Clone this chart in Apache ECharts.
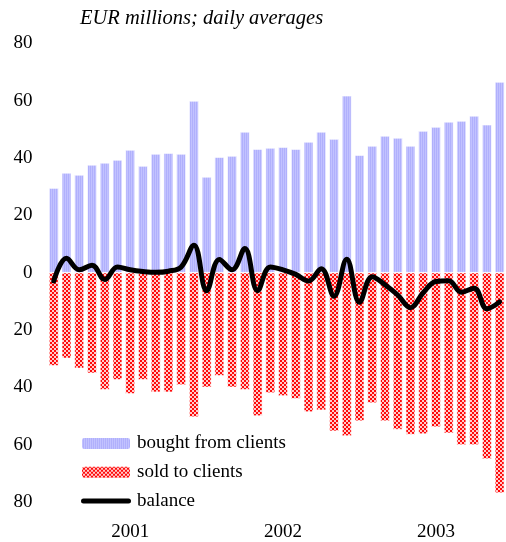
<!DOCTYPE html>
<html>
<head>
<meta charset="utf-8">
<script src="https://cdn.jsdelivr.net/npm/echarts@6/dist/echarts.min.js"></script>
<style>
html,body{margin:0;padding:0;background:#fff;}
#chart{width:506px;height:542px;}
</style>
</head>
<body>
<div id="chart"></div>
<script>
// Monthly categories Jan 2001 - Dec 2003
var years = ['2001', '2002', '2003'];
var months = ['01','02','03','04','05','06','07','08','09','10','11','12'];
var categories = [];
years.forEach(function (y) { months.forEach(function (m) { categories.push(y + '-' + m); }); });

var bought = [29.5, 34.8, 34.1, 37.6, 38.3, 39.3, 42.8, 37.2, 41.4, 41.7, 41.4, 59.9,
              33.4, 40.3, 40.7, 49.1, 43.1, 43.5, 43.8, 43.1, 45.6, 49.1, 46.6, 61.7,
              41.0, 44.2, 47.7, 47.0, 44.2, 49.4, 50.8, 52.6, 52.9, 54.7, 51.6, 66.5];
var sold = [32.5, 29.9, 33.4, 35.1, 40.9, 37.4, 42.3, 37.4, 41.7, 41.7, 39.2, 50.4,
            40.0, 36.0, 40.0, 40.9, 50.0, 42.0, 43.0, 44.0, 48.6, 48.0, 55.3, 57.0,
            51.8, 45.5, 51.8, 54.7, 56.5, 56.3, 53.9, 56.0, 60.1, 60.1, 65.0, 76.9];
var balance = [-2.9, 5.0, 1.0, 2.6, -2.4, 2.0, 1.0, 0.4, 0.1, 0.5, 2.0, 9.6,
               -6.3, 4.6, 1.0, 8.4, -6.3, 2.0, 1.0, -0.6, -2.9, 1.4, -8.2, 4.7,
               -10.3, -1.4, -4.2, -7.8, -12.2, -7.0, -3.1, -2.8, -6.8, -5.4, -12.6, -10.2];

function makePattern(w, h, draw) {
  var c = document.createElement('canvas');
  c.width = w; c.height = h;
  var ctx = c.getContext('2d');
  draw(ctx);
  return { image: c, repeat: 'repeat' };
}
var bluePattern = makePattern(2, 1, function (ctx) {
  ctx.fillStyle = '#b0b0fc'; ctx.fillRect(0, 0, 1, 1);
  ctx.fillStyle = '#c2c2ff'; ctx.fillRect(1, 0, 1, 1);
});
var redPattern = makePattern(4, 4, function (ctx) {
  ctx.fillStyle = '#ffcccc'; ctx.fillRect(0, 0, 4, 4);
  ctx.fillStyle = '#ff0a0a';
  ctx.fillRect(0, 0, 2, 2); ctx.fillRect(2, 2, 2, 2);
});

var font = '"Liberation Serif", "Times New Roman", serif';
var lineIcon = 'path://M2.5,0 L47.5,0 A2.5,2.5 0 0 1 47.5,5 L2.5,5 A2.5,2.5 0 0 1 2.5,0 Z';
var chart = echarts.init(document.getElementById('chart'), null, {renderer: 'canvas'});
chart.setOption({
  animation: false,
  backgroundColor: '#fff',
  title: {
    text: 'EUR millions; daily averages',
    left: 80, top: 9, padding: 0,
    textStyle: {fontFamily: font, fontStyle: 'italic', fontWeight: 'normal', fontSize: 20.5, color: '#000'}
  },
  grid: {left: 47.4, right: 0, top: 43.3, bottom: 39.3, containLabel: false},
  legend: {
    data: ['bought from clients', 'sold to clients', {name: 'balance', icon: lineIcon}],
    orient: 'vertical', left: 80, top: 434, padding: 0,
    itemWidth: 50, itemHeight: 13, itemGap: 9.7,
    textStyle: {fontFamily: font, fontSize: 19, lineHeight: 19, color: '#000', padding: [0, 0, 0, 1]}
  },
  xAxis: {
    type: 'category',
    data: categories,
    position: 'bottom',
    axisLine: {show: false, onZero: false},
    axisTick: {show: false},
    splitLine: {show: false},
    axisLabel: {
      interval: function (idx) { return idx % 12 === 6; },
      formatter: function (v) { return v.slice(0, 4); },
      margin: 21,
      fontFamily: font, fontSize: 19, color: '#000'
    }
  },
  yAxis: {
    type: 'value',
    min: -80, max: 80, interval: 20,
    axisLine: {show: false},
    axisTick: {show: false},
    splitLine: {show: false},
    axisLabel: {
      formatter: function (v) { return String(Math.abs(v)); },
      margin: 15,
      fontFamily: font, fontSize: 19, color: '#000'
    }
  },
  series: [
    {
      name: 'bought from clients', type: 'bar', stack: 'flow',
      data: bought,
      barCategoryGap: '25%',
      itemStyle: {color: bluePattern, borderColor: '#fff', borderWidth: 0.6}
    },
    {
      name: 'sold to clients', type: 'bar', stack: 'flow',
      data: sold.map(function (v) { return -v; }),
      barCategoryGap: '25%',
      itemStyle: {color: redPattern, borderColor: '#fff', borderWidth: 0.6}
    },
    {
      name: 'balance', type: 'line',
      data: balance,
      smooth: 0.4,
      symbol: 'none',
      z: 5,
      lineStyle: {color: '#000', width: 5, cap: 'round', join: 'round'},
      itemStyle: {color: '#000'}
    }
  ]
});
</script>
</body>
</html>
